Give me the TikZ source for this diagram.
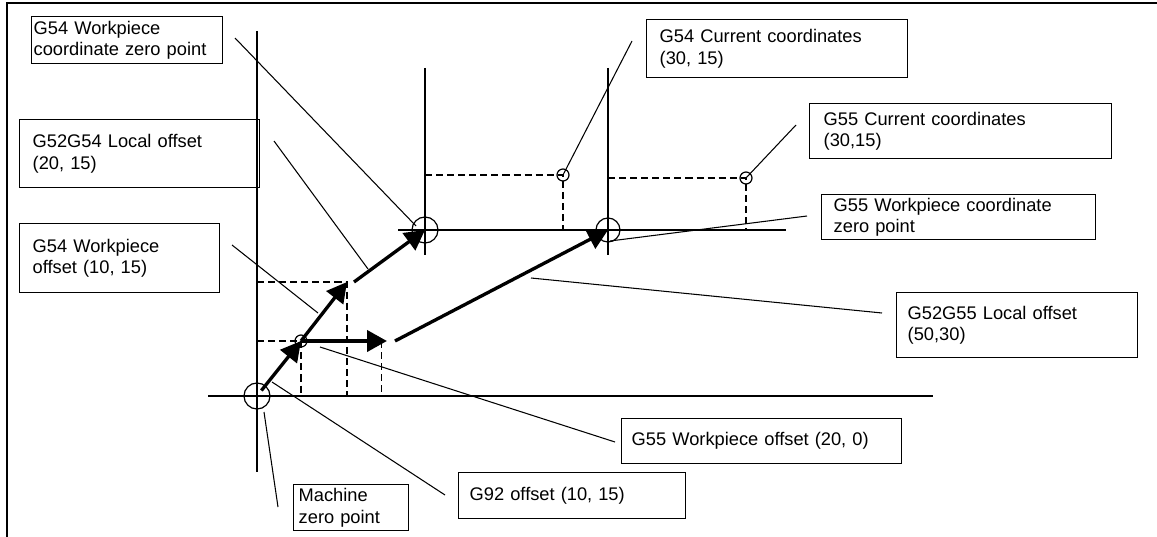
\documentclass[tikz,border=0pt]{standalone}
\usepackage{fontspec}
\setmainfont{Liberation Sans}
\usetikzlibrary{arrows.meta}
\tikzset{
  callout/.style={
    draw, line width=0.8pt, anchor=north west, align=left, inner ysep=0pt,
    font=\fontsize{10.4}{12.3}\selectfont
  },
  axis/.style={line width=1pt},
  frameline/.style={line width=1.1pt},
  leader/.style={line width=0.6pt},
  proj/.style={line width=0.7pt, dash pattern=on 4pt off 2.3pt},
  offvec/.style={line width=1.9pt, -{Triangle[length=4mm,width=4.2mm]}},
  zeromark/.style={line width=0.7pt}
}

\begin{document}
\begin{tikzpicture}[x=0.02cm, y=-0.02cm]
  \useasboundingbox (0,0) rectangle (1157,537);
  % frame
  \draw[frameline] (7,537) -- (7,3) -- (1157,3);

  % zero points and corners
  \coordinate (M) at (257,396);
  \coordinate (P92) at (301,341);
  \coordinate (PA) at (347,282);
  \coordinate (PB) at (387,341);
  \coordinate (O54) at (425,230);
  \coordinate (O55) at (608,230);
  \coordinate (C54) at (563,175);
  \coordinate (C55) at (746,178);

  % axes
  \draw[axis] (257,31) -- (257,472);
  \draw[axis] (208,396) -- (933,396);
  \draw[axis] (425,68) -- (425,255);
  \draw[axis] (608,68) -- (608,255);
  \draw[axis] (398,230) -- (786,230);

  % projections
  \draw[proj] (M |- P92) -- (P92) -- (P92 |- M);
  \draw[proj] (M |- PA) -- (PA) -- (PA |- M);
  \draw[proj] ([xshift=-3]PB) -- ([xshift=-3]PB |- M);
  \draw[proj] (O54 |- C54) -- (C54) -- (C54 |- O54);
  \draw[proj] (O55 |- C55) -- (C55) -- (C55 |- O55);

  % circles
  \draw[zeromark] (M) circle[radius=13];
  \draw[zeromark] (O54) circle[radius=13];
  \draw[zeromark] (O55) circle[radius=12];
  \draw[zeromark] (P92) circle[radius=6];
  \draw[zeromark] (C54) circle[radius=6];
  \draw[zeromark] (C55) circle[radius=6];

  % offset vectors
  \draw[offvec, shorten <=4pt] (M) -- (P92);
  \draw[offvec] (P92) -- (PA);
  \draw[offvec] (354,282) -- (O54);
  \draw[offvec, line width=2.3pt] (P92) -- (PB);
  \draw[offvec] (395,341) -- (O55);

  % callouts
  \node[callout, inner xsep=0.04cm, text width=3.74cm, minimum height=0.94cm] (zeroG54) at (31,16) {G54 Workpiece\\coordinate zero point};
  \node[callout, inner xsep=0.26cm, text width=4.28cm, minimum height=1.36cm] (localG54) at (19,119) {G52G54 Local offset\\(20, 15)};
  \node[callout, inner xsep=0.26cm, text width=3.48cm, minimum height=1.38cm] (offG54) at (19,223) {G54 Workpiece\\offset (10, 15)};
  \node[callout, inner xsep=0.1cm, text width=2.1cm, minimum height=0.92cm] (machZero) at (293,484) {Machine\\zero point};
  \node[callout, inner xsep=0.22cm, text width=4.1cm, minimum height=0.92cm] (offG92) at (458,472) {G92 offset (10, 15)};
  \node[callout, inner xsep=0.2cm, text width=5.2cm, minimum height=0.9cm] (offG55) at (621,418) {G55 Workpiece offset (20, 0)};
  \node[callout, inner xsep=0.22cm, text width=4.38cm, minimum height=1.3cm] (localG55) at (896,292) {G52G55 Local offset\\(50,30)};
  \node[callout, inner xsep=0.24cm, text width=5.0cm, minimum height=0.9cm] (zeroG55) at (821,194) {G55 Workpiece coordinate\\zero point};
  \node[callout, inner xsep=0.28cm, text width=5.48cm, minimum height=1.1cm] (curG55) at (809,103) {G55 Current coordinates\\(30,15)};
  \node[callout, inner xsep=0.26cm, text width=4.7cm, minimum height=1.16cm] (curG54) at (646,19) {G54 Current coordinates\\(30, 15)};

  % leaders
  \draw[leader] (235,38) -- (416,226);
  \draw[leader] (274,141) -- (368,269);
  \draw[leader] (232,245) -- (318,313);
  \draw[leader] (278,507) -- (264,412);
  \draw[leader] (445,495) -- (272,382);
  \draw[leader] (615,442) -- (320,347);
  \draw[leader] (882,313) -- (531,278);
  \draw[leader] (807,216) -- (610,241);
  \draw[leader] (796,125) -- (C55);
  \draw[leader] (632,41) -- (C54);
\end{tikzpicture}
\end{document}
